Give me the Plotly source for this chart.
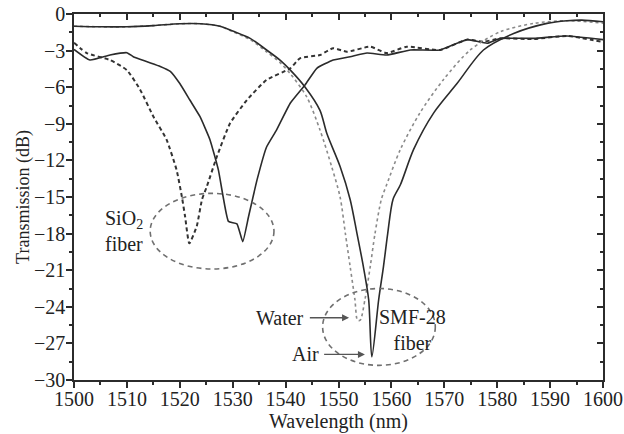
import plotly.graph_objects as go

# ---- data ----
smf_air_x = [1500, 1505, 1510, 1515, 1520, 1524, 1527.6, 1530, 1533.3, 1536.4, 1539, 1540.9,
             1543.7, 1546.5, 1547.8, 1550.3, 1552.2, 1553.5, 1554.7, 1555.7, 1556.3, 1557.6,
             1558.5, 1559.3, 1560.3, 1561.7, 1564.2, 1568, 1572.4, 1577.4, 1583.1, 1589.4,
             1593.2, 1596, 1600]
smf_air_y = [-1.0, -1.05, -1.05, -0.95, -0.8, -0.8, -1.0, -1.4, -2.0, -2.95, -3.8, -4.6,
             -6.0, -7.9, -9.8, -12.5, -15.2, -18.0, -20.7, -23.4, -28.1, -23.4,
             -20.7, -18.0, -15.2, -14.0, -11.1, -8.1, -5.7, -2.95, -1.6, -0.77,
             -0.55, -0.5, -0.63]

smf_water_x = [1500, 1505, 1510, 1515, 1520, 1524, 1527.6, 1530, 1533.3, 1536.4, 1539, 1540.9,
               1544, 1546.5, 1548.7, 1550.3, 1551.3, 1552.2, 1553.1, 1553.6, 1554.1, 1555.0,
               1556.0, 1556.9, 1558.1, 1559.1, 1561.7, 1565.4, 1569.8, 1574.9, 1580.6, 1586.9,
               1593.2, 1600]
smf_water_y = [-1.0, -1.05, -1.05, -0.95, -0.8, -0.8, -1.0, -1.45, -2.1, -3.1, -4.0, -4.9,
               -6.8, -9.5, -12.5, -15.0, -18.0, -20.7, -23.4, -25.1, -25.1, -23.4,
               -20.7, -18.0, -15.2, -14.0, -11.1, -8.1, -5.4, -2.95, -1.45, -0.77,
               -0.55, -0.75]

sio2_air_x = [1500, 1503, 1506.8, 1510, 1511.2, 1513.7, 1516.3, 1518.2, 1520, 1521.9, 1523.8,
              1525.7, 1527.3, 1528.2, 1529.2, 1530.8, 1531.9, 1533, 1534.6, 1536.4, 1538.3,
              1540.9, 1543.7, 1545.9, 1549, 1552.2, 1555.4, 1559.1, 1563.6, 1569.2, 1574.3,
              1578.1, 1580.6, 1586.9, 1593.2, 1600]
sio2_air_y = [-2.9, -3.77, -3.36, -3.17, -3.5, -3.9, -4.3, -4.7, -5.7, -7.05, -8.4,
              -10.3, -12.8, -15.0, -17.0, -17.2, -18.66, -16.6, -13.6, -10.9, -9.5,
              -7.3, -5.8, -4.45, -3.77, -3.5, -3.2, -3.36, -2.95, -2.95, -2.1,
              -2.4, -2.0, -2.0, -1.8, -2.1]

sio2_water_x = [1500, 1502.4, 1506.8, 1510, 1512.5, 1515, 1517.5, 1519.4, 1520.4, 1521, 1521.8,
                1523.2, 1524.2, 1525.1, 1527, 1529.5, 1532.7, 1536.4, 1540.9, 1542.7, 1546.5,
                1549, 1551.6, 1556, 1559.1, 1562.9, 1569.2, 1574.3, 1577.4, 1580.6, 1586.9,
                1593.2, 1600]
sio2_water_y = [-2.35, -3.2, -3.77, -4.6, -6.2, -8.4, -10.3, -12.8, -15.0, -16.6, -18.8,
                -17.4, -15.2, -14.15, -11.7, -8.96, -7.05, -5.4, -4.45, -3.63, -3.36,
                -2.8, -3.09, -2.68, -3.2, -2.68, -2.95, -2.1, -2.27, -2.0, -2.05,
                -1.8, -2.3]

x_ticks = [1500, 1510, 1520, 1530, 1540, 1550, 1560, 1570, 1580, 1590, 1600]
y_ticks = [0, -3, -6, -9, -12, -15, -18, -21, -24, -27, -30]

FONT = "Liberation Serif"
DARK = "#2b2b2b"
TXT = "#222222"

fig = go.Figure()
fig.add_trace(go.Scatter(x=sio2_water_x, y=sio2_water_y, mode="lines",
                         line=dict(color="#333333", width=2, dash="4px,3px",
                                   shape="spline", smoothing=0.5)))
fig.add_trace(go.Scatter(x=sio2_air_x, y=sio2_air_y, mode="lines",
                         line=dict(color=DARK, width=1.6, shape="spline", smoothing=0.4)))
fig.add_trace(go.Scatter(x=smf_water_x, y=smf_water_y, mode="lines",
                         line=dict(color="#8a8a8a", width=1.6, dash="dot",
                                   shape="spline", smoothing=0.8)))
fig.add_trace(go.Scatter(x=smf_air_x, y=smf_air_y, mode="lines",
                         line=dict(color=DARK, width=1.6, shape="spline", smoothing=0.8)))
# dummy trace for mirrored frame axes
fig.add_trace(go.Scatter(x=[None], y=[None], xaxis="x2", yaxis="y2", hoverinfo="skip"))

# dashed ellipses
ell = dict(type="circle", xref="x", yref="y",
           line=dict(color="#707070", width=1.6, dash="5px,4px"), layer="above")
fig.add_shape(x0=1514.4, x1=1537.8, y0=-20.9, y1=-14.7, **ell)
fig.add_shape(x0=1547.0, x1=1568.3, y0=-28.8, y1=-22.5, **ell)

tf = dict(family=FONT, size=20, color=TXT)
fig.add_annotation(x=1505.5, y=-17.8, xanchor="left", yanchor="middle", align="left",
                   text="SiO<sub>2</sub><br>fiber", showarrow=False, font=tf)
fig.add_annotation(x=1564.0, y=-25.9, xanchor="center", yanchor="middle", align="center",
                   text="SMF-28<br>fiber", showarrow=False, font=tf)
fig.add_annotation(x=1543.9, y=-24.9, xanchor="right", yanchor="middle",
                   text="Water", showarrow=False, font=tf)
fig.add_annotation(x=1546.6, y=-27.9, xanchor="right", yanchor="middle",
                   text="Air", showarrow=False, font=tf)
arr = dict(showarrow=True, text="", axref="x", ayref="y", arrowhead=2, arrowsize=1,
           arrowwidth=1.4, arrowcolor="#555")
fig.add_annotation(x=1552.0, y=-24.9, ax=1544.3, ay=-24.9, **arr)
fig.add_annotation(x=1555.0, y=-27.9, ax=1547.0, ay=-27.9, **arr)
# x-axis title
fig.add_annotation(x=0.5, y=-0.114, xref="paper", yref="paper", xanchor="center",
                   yanchor="middle", text="Wavelength (nm)", showarrow=False, font=tf)

axcommon = dict(showgrid=False, zeroline=False, showline=True, linecolor=DARK, linewidth=1.5,
                tickcolor=DARK, tickwidth=1.5, automargin=False)
fig.update_layout(
    template="none",
    width=624, height=434,
    margin=dict(l=74, r=21, t=14, b=54, autoexpand=False),
    paper_bgcolor="white", plot_bgcolor="white",
    showlegend=False,
    font=dict(family=FONT, size=20, color=TXT),
    xaxis=dict(range=[1500, 1600], tickvals=x_ticks, ticktext=[str(v) for v in x_ticks],
               ticks="outside", ticklen=6, ticklabelstandoff=-6,
               minor=dict(dtick=5, tick0=1500, ticks="outside", ticklen=3, tickcolor=DARK),
               tickfont=dict(size=20, color=TXT), **axcommon),
    yaxis=dict(range=[-30, 0], tickvals=y_ticks, ticks="outside", ticklen=6,
               ticklabelstandoff=-3,
               minor=dict(dtick=1.5, tick0=0, ticks="outside", ticklen=3, tickcolor=DARK),
               title=dict(text="Transmission (dB)", standoff=0,
                          font=dict(size=18, color=TXT, family=FONT)),
               tickfont=dict(size=20, color=TXT), **axcommon),
    xaxis2=dict(range=[1500, 1600], overlaying="x", side="top", anchor="y", tickvals=x_ticks,
                ticks="inside", ticklen=6, showticklabels=False,
                minor=dict(dtick=5, tick0=1500, ticks="inside", ticklen=3, tickcolor=DARK),
                **axcommon),
    yaxis2=dict(range=[-30, 0], overlaying="y", side="right", anchor="x", tickvals=y_ticks,
                ticks="inside", ticklen=6, showticklabels=False,
                minor=dict(dtick=1.5, tick0=0, ticks="inside", ticklen=3, tickcolor=DARK),
                **axcommon),
)

fig.write_html("out.html", config={"displayModeBar": False},
               post_script="document.body.style.margin='0';")
